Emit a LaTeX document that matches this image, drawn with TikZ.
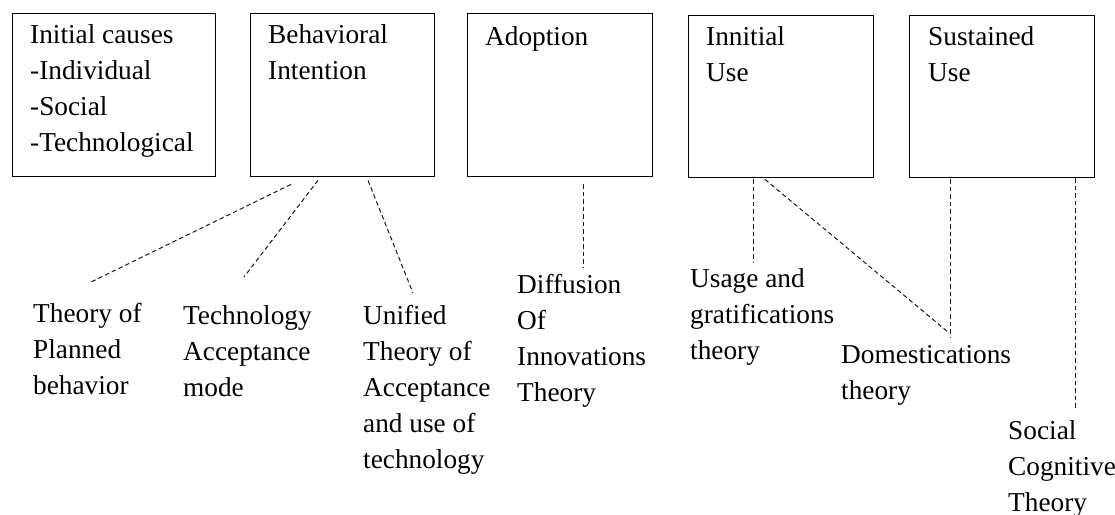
\documentclass[tikz,border=0pt]{standalone}
\usepackage{fontspec}
\setmainfont{Liberation Serif}
% stacked lines whose reference point is the first baseline
\newcommand{\tlines}[1]{\begin{tabular}[t]{@{}l@{}}#1\end{tabular}}
\begin{document}
\begin{tikzpicture}[x=1pt,y=-1pt,
  stagebox/.style={draw=black, line width=1.4pt, minimum width=#1, inner sep=0pt, anchor=north west, minimum height=163pt},
  txt/.style={anchor=base west, inner sep=0pt, font=\fontsize{27.3}{36}\selectfont},
  link/.style={draw=black!90, line width=1pt, dash pattern=on 4.5pt off 3pt}]
\useasboundingbox (0,0) rectangle (1115,514);

% stage boxes
\node[stagebox=203pt] (ic) at (12,13) {};
\node[stagebox=184pt] (bi) at (250,13) {};
\node[stagebox=185pt] (ad) at (467,13) {};
\node[stagebox=185pt, minimum height=162pt] (iu) at (688,15) {};
\node[stagebox=185pt, minimum height=162pt] (su) at (909,15) {};

% box captions
\node[txt] (ict) at (30,43) {\tlines{Initial causes\\-Individual\\-Social\\-Technological}};
\node[txt] (bit) at (268,43) {\tlines{Behavioral\\Intention}};
\node[txt] (adt) at (485,45) {\tlines{Adoption}};
\node[txt] (iut) at (706,45) {\tlines{Innitial\\Use}};
\node[txt] (sut) at (928,45) {\tlines{Sustained\\Use}};

% theories
\node[txt] (tpb) at (33,322) {\tlines{Theory of\\Planned\\behavior}};
\node[txt] (tam) at (183,324) {\tlines{Technology\\Acceptance\\mode}};
\node[txt] (utaut) at (363,324) {\tlines{Unified\\Theory of\\Acceptance\\and use of\\technology}};
\node[txt] (doi) at (517,293) {\tlines{Diffusion\\Of\\Innovations\\Theory}};
\node[txt] (ugt) at (690,287) {\tlines{Usage and\\gratifications\\theory}};
\node[txt] (dom) at (841,363) {\tlines{Domestications\\theory}};
\node[txt] (sct) at (1008,439) {\tlines{Social\\Cognitive\\Theory}};

% dashed links
\draw[link] ([shift={(41,7)}]bi.south west) -- ([shift={(56,-39)}]tpb.base west);
\draw[link] ([shift={(68,3)}]bi.south west) -- ([shift={(61,-47)}]tam.base west);
\draw[link] ([shift={(118,3)}]bi.south west) -- ([shift={(50,-31)}]utaut.base west);
\draw[link] ([shift={(116,7)}]ad.south west) -- ([shift={(66,-26)}]doi.base west);
\draw[link] ([shift={(65,1)}]iu.south west) -- ([shift={(63,-25)}]ugt.base west);
\draw[link] ([shift={(77,1)}]iu.south west) -- ([shift={(107,-31)}]dom.base west);
\draw[link] ([shift={(41,1)}]su.south west) -- ([shift={(109,-26)}]dom.base west);
\draw[link] ([shift={(166,0)}]su.south west) -- ([shift={(67,-31)}]sct.base west);
\end{tikzpicture}
\end{document}
